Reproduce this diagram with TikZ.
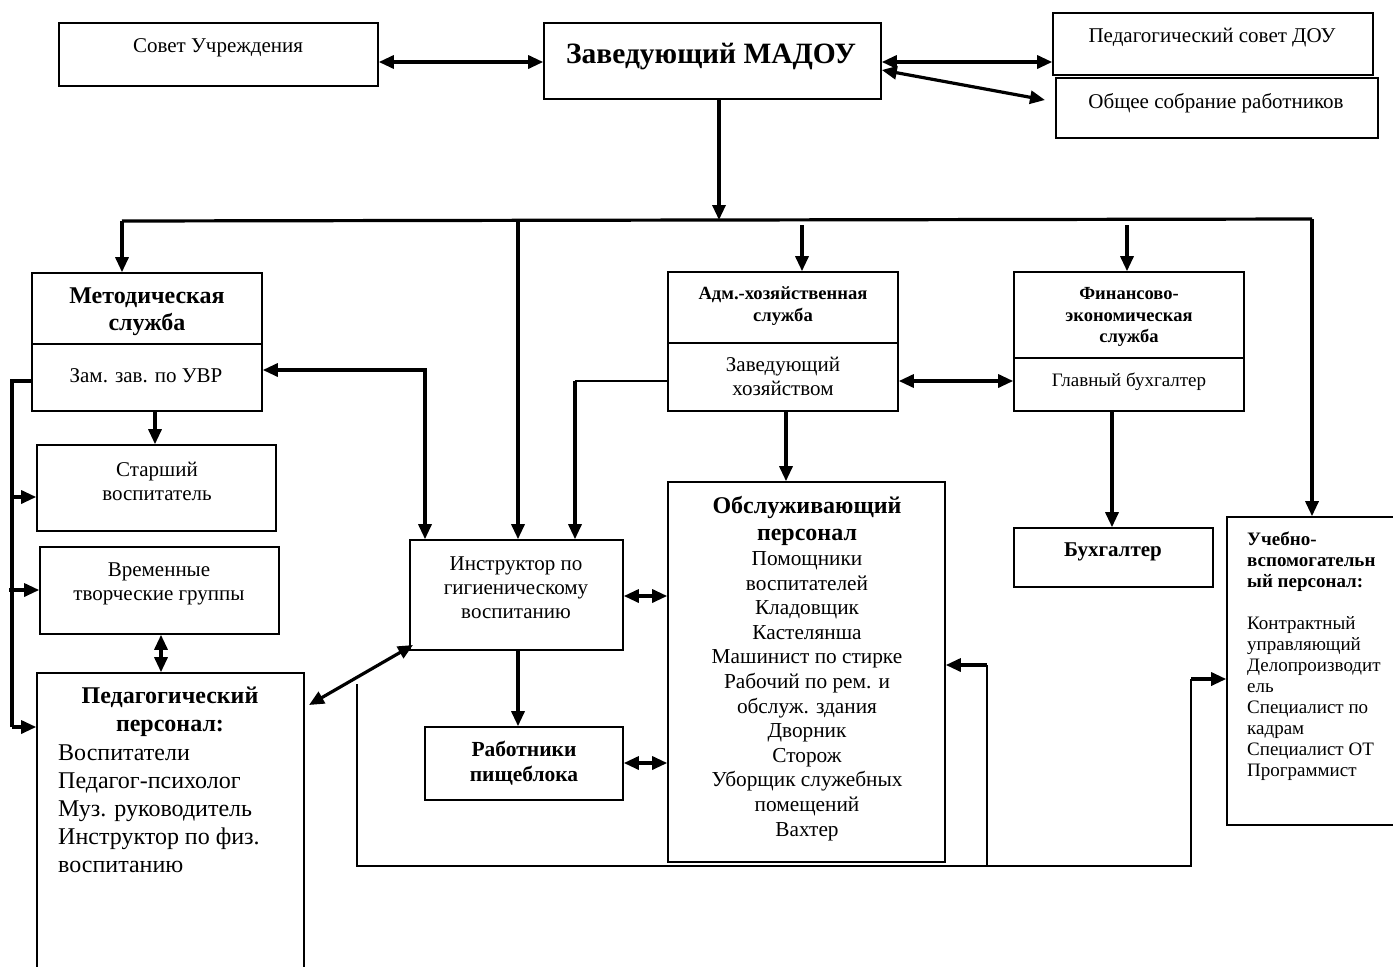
\documentclass[tikz,border=0pt]{standalone}
\usepackage{fontspec}
\setmainfont{Liberation Serif}
\usetikzlibrary{arrows.meta}
\begin{document}
\begin{tikzpicture}[x=1pt,y=-1pt,
  box/.style={draw, line width=1.6pt, inner sep=0pt},
  thk/.style={line width=3.2pt},
  thn/.style={line width=1.6pt},
  ar/.style={thk,-{Triangle[length=15pt,width=13pt]}},
  dar/.style={thk,{Triangle[length=15pt,width=13pt]}-{Triangle[length=15pt,width=13pt]}},
  t/.style={font=\fontsize{21}{24}\selectfont, align=center, inner sep=0pt},
]
\clip (0,0) rectangle (1393,967);
\fill[white] (0,0) rectangle (1393,967);

% boxes
\node[box, minimum width=319pt, minimum height=63pt] (sovet) at (218.5,54.5) {};
\node[box, minimum width=337pt, minimum height=76pt] (zav) at (712.5,61) {};
\node[box, minimum width=320pt, minimum height=62pt] (pedsov) at (1213,44) {};
\node[box, minimum width=322pt, minimum height=60pt] (obsh) at (1217,108) {};
\node[box, minimum width=230pt, minimum height=138pt] (metod) at (147,342) {};
\node[box, minimum width=239pt, minimum height=86pt] (star) at (156.5,488) {};
\node[box, minimum width=239pt, minimum height=87pt] (vrem) at (159.5,590.5) {};
\node[box, minimum width=267pt, minimum height=317pt] (ped) at (170.5,831.5) {};
\node[box, minimum width=213pt, minimum height=110pt] (instr) at (516.5,595) {};
\node[box, minimum width=230pt, minimum height=139pt] (adm) at (783,341.5) {};
\node[box, minimum width=230pt, minimum height=139pt] (fin) at (1129,341.5) {};
\node[box, minimum width=277pt, minimum height=380pt] (obsl) at (806.5,672) {};
\node[box, minimum width=198pt, minimum height=73pt] (rab) at (524,763.5) {};
\node[box, minimum width=199pt, minimum height=59pt] (buh) at (1113.5,557.5) {};
\node[box, minimum width=183pt, minimum height=308pt] (ucheb) at (1318.5,671) {};

% dividers
\draw[thn] (metod.west |- 0,344) -- (metod.east |- 0,344);
\draw[thn] (adm.west |- 0,343) -- (adm.east |- 0,343);
\draw[thn] (fin.west |- 0,358) -- (fin.east |- 0,358);

% texts
\node[t] (tsovet) at (218,48) {Совет Учреждения};
\node[font=\fontsize{29.5}{33}\selectfont\bfseries, inner sep=0pt] (tzav) at (711,57) {Заведующий МАДОУ};
\node[t] (tpedsov) at (1212,38) {Педагогический совет ДОУ};
\node[t] (tobsh) at (1216,103) {Общее собрание работников};
\node[font=\fontsize{24}{27}\selectfont\bfseries, align=center, inner sep=0pt] (tmetod) at (147,312) {Методическая\\служба};
\node[t] (tzam) at (146,376) {Зам. зав. по УВР};
\node[t] (tstar) at (157,481) {Старший\\воспитатель};
\node[t] (tvrem) at (159,584) {Временные\\творческие группы};
\node[font=\fontsize{24}{28}\selectfont\bfseries, align=center, inner sep=0pt] (tped) at (170,712) {Педагогический\\персонал:};
\node[font=\fontsize{24}{28}\selectfont, align=left, inner sep=0pt, anchor=west] (tpedl) at (58,809)
  {Воспитатели\\Педагог-психолог\\Муз. руководитель\\Инструктор по физ.\\воспитанию};
\node[t] (tinstr) at (516,588) {Инструктор по\\гигиеническому\\воспитанию};
\node[font=\fontsize{18.6}{22}\selectfont\bfseries, align=center, inner sep=0pt] (tadm) at (783,306) {Адм.-хозяйственная\\служба};
\node[t] (tadm2) at (783,376) {Заведующий\\хозяйством};
\node[font=\fontsize{18.5}{21.5}\selectfont\bfseries, align=center, inner sep=0pt] (tfin) at (1129,317) {Финансово-\\экономическая\\служба};
\node[font=\fontsize{19}{24}\selectfont, inner sep=0pt] (tfin2) at (1129,382) {Главный бухгалтер};
\node[font=\fontsize{24}{27}\selectfont\bfseries, align=center, inner sep=0pt] (tobsl) at (807,521) {Обслуживающий\\персонал};
\node[font=\fontsize{21.3}{24.6}\selectfont, align=center, inner sep=0pt] (tobsl2) at (807,696)
  {Помощники\\воспитателей\\Кладовщик\\Кастелянша\\Машинист по стирке\\Рабочий по рем. и\\обслуж. здания\\Дворник\\Сторож\\Уборщик служебных\\помещений\\Вахтер};
\node[font=\fontsize{21.5}{25}\selectfont\bfseries, align=center, inner sep=0pt] (trab) at (524,763) {Работники\\пищеблока};
\node[font=\fontsize{21}{24}\selectfont\bfseries, inner sep=0pt] (tbuh) at (1113,552) {Бухгалтер};
\node[font=\fontsize{19}{21}\selectfont, align=left, inner sep=0pt, anchor=west] (tucheb) at (1247,656)
  {\textbf{Учебно-}\\\textbf{вспомогательн}\\\textbf{ый персонал:}\\[21pt]Контрактный\\управляющий\\Делопроизводит\\ель\\Специалист по\\кадрам\\Специалист ОТ\\Программист};

% top connectors
\draw[dar] (sovet.east |- 0,62) -- (zav.west |- 0,62);
\draw[dar] (zav.east |- 0,62) -- (pedsov.west |- 0,62);
\coordinate (obshtip) at (1045,100);
\draw[dar] (zav.east |- 0,70) -- (obshtip);

% bus
\coordinate (busL) at (122,221);
\coordinate (busR) at (1312,219);
\coordinate (busZ) at (719,220);
\draw[thk] (busL) -- (busR);
\draw[ar] (zav.south -| busZ) -- (busZ);
\draw[ar] (busL) -- (metod.north -| busL);
\draw[ar] (518,220) -- (instr.north -| 518,0);
\draw[ar] (802,225) -- (adm.north -| 802,0);
\draw[ar] (1127,225) -- (fin.north -| 1127,0);
\draw[ar] (busR) -- (ucheb.north -| busR);

% left side
\coordinate (lt) at (12,381);
\coordinate (lb) at (12,727);
\draw[thk] (metod.west |- lt) -- (lt) -- (lb);
\draw[ar] (lb) -- (ped.west |- lb);
\draw[ar] (12,497) -- (star.west |- 0,497);
\draw[ar] (9,590) -- (vrem.west |- 0,590);
\draw[ar] (metod.south -| 155,0) -- (star.north -| 155,0);
\draw[dar] (vrem.south -| 161,0) -- (ped.north -| 161,0);

% metod <-> instr
\coordinate (mi) at (425,370);
\draw[dar] (metod.east |- mi) -- (mi) -- (instr.north -| mi);

% adm -> instr
\coordinate (ai) at (575,381);
\draw[thn] (adm.west |- ai) -- (ai);
\draw[ar] (ai) -- (instr.north -| ai);

% adm <-> fin, adm -> obsl, fin -> buh
\draw[dar] (adm.east |- 0,381) -- (fin.west |- 0,381);
\draw[ar] (adm.south -| 786,0) -- (obsl.north -| 786,0);
\draw[ar] (fin.south -| 1112,0) -- (buh.north -| 1112,0);

% instr links
\draw[dar] (instr.east |- 0,596) -- (obsl.west |- 0,596);
\draw[ar] (instr.south -| 518,0) -- (rab.north -| 518,0);
\draw[dar] (rab.east |- 0,763) -- (obsl.west |- 0,763);
\coordinate (ia) at (413,645);
\coordinate (pa) at (309,705);
\draw[dar] (ia) -- (pa);

% bottom loop
\coordinate (l1) at (357,684);
\coordinate (l2) at (357,866);
\coordinate (l3) at (1191,866);
\coordinate (l4) at (1191,679);
\coordinate (m1) at (987,866);
\coordinate (m2) at (987,665);
\draw[thn] (l1) -- (l2) -- (l3) -- (l4);
\draw[ar] (l4) -- (ucheb.west |- l4);
\draw[thn] (m1) -- (m2);
\draw[ar] (m2) -- (obsl.east |- m2);
\end{tikzpicture}
\end{document}
